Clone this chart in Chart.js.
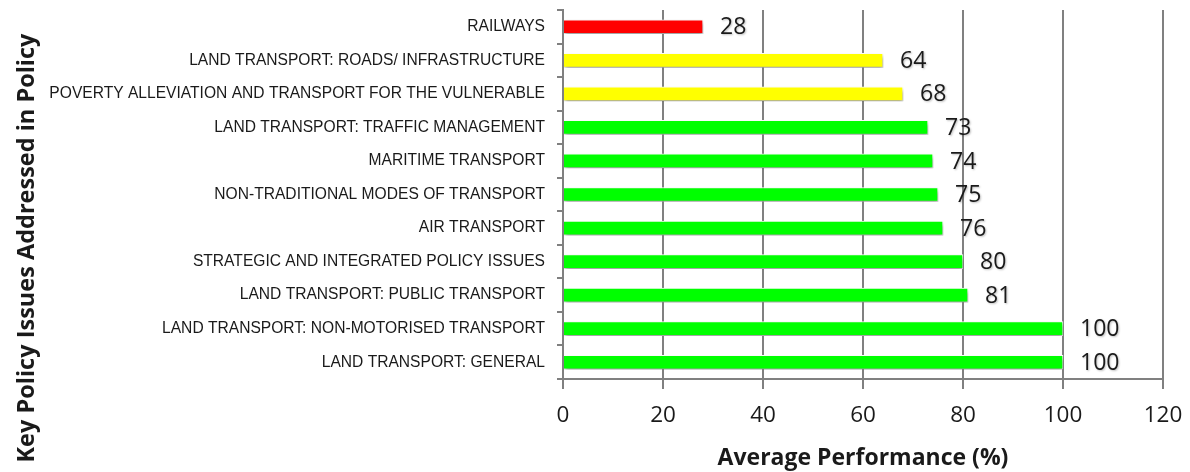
<!DOCTYPE html>
<html>
<head>
<meta charset="utf-8">
<script src="https://cdn.jsdelivr.net/npm/chart.js@4/dist/chart.umd.min.js"></script>
<style>
  html, body { margin: 0; padding: 0; background: #fff; }
  #wrap { width: 1190px; height: 472px; }
</style>
</head>
<body>
<div id="wrap"><canvas id="c" width="1190" height="472"></canvas></div>
<script>
const categories = [
  "RAILWAYS",
  "LAND TRANSPORT: ROADS/ INFRASTRUCTURE",
  "POVERTY ALLEVIATION AND TRANSPORT FOR THE VULNERABLE",
  "LAND TRANSPORT: TRAFFIC MANAGEMENT",
  "MARITIME TRANSPORT",
  "NON-TRADITIONAL MODES OF TRANSPORT",
  "AIR TRANSPORT",
  "STRATEGIC AND INTEGRATED POLICY ISSUES",
  "LAND TRANSPORT: PUBLIC TRANSPORT",
  "LAND TRANSPORT: NON-MOTORISED TRANSPORT",
  "LAND TRANSPORT: GENERAL"
];
const performance = [28, 64, 68, 73, 74, 75, 76, 80, 81, 100, 100];
const barColors = ["#ff0000", "#ffff00", "#ffff00", "#00ff00", "#00ff00", "#00ff00", "#00ff00", "#00ff00", "#00ff00", "#00ff00", "#00ff00"];
const xTicks = [0, 20, 40, 60, 80, 100, 120];
const xTitle = "Average Performance (%)";
const yTitle = "Key Policy Issues Addressed in Policy";

const TEXT = "#1a1a1a";
const GRID = "#808080";

const shadowPlugin = {
  id: "barShadow",
  beforeDatasetsDraw(chart) {
    const ctx = chart.ctx;
    ctx.save();
    ctx.shadowColor = "rgba(0,0,0,0.40)";
    ctx.shadowBlur = 4;
    ctx.shadowOffsetX = 1;
    ctx.shadowOffsetY = 3;
  },
  afterDatasetsDraw(chart) {
    const ctx = chart.ctx;
    ctx.restore();
    // value labels
    const meta = chart.getDatasetMeta(0);
    ctx.save();
    ctx.font = "23px 'Open Sans'";
    ctx.fillStyle = TEXT;
    ctx.textAlign = "left";
    ctx.textBaseline = "middle";
    ctx.shadowColor = "rgba(0,0,0,0.25)";
    ctx.shadowBlur = 2;
    ctx.shadowOffsetX = 1;
    ctx.shadowOffsetY = 1;
    meta.data.forEach((bar, i) => {
      ctx.fillText(String(performance[i]), bar.x + 17, bar.y + 1);
    });
    ctx.restore();
    // y axis title
    ctx.save();
    ctx.font = "bold 23.5px 'Open Sans'";
    ctx.fillStyle = TEXT;
    ctx.textAlign = "center";
    ctx.textBaseline = "middle";
    ctx.translate(27, 248);
    ctx.rotate(-Math.PI / 2);
    ctx.fillText(yTitle, 0, 0);
    ctx.restore();
  }
};

new Chart(document.getElementById("c"), {
  type: "bar",
  data: {
    labels: categories,
    datasets: [{
      data: performance,
      backgroundColor: barColors,
      borderColor: "#ffffff",
      borderWidth: 1,
      barThickness: 14
    }]
  },
  options: {
    indexAxis: "y",
    responsive: false,
    animation: false,
    devicePixelRatio: 1,
    layout: { padding: { top: 10, right: 27, left: 0, bottom: 0 } },
    plugins: { legend: { display: false }, tooltip: { enabled: false } },
    scales: {
      x: {
        min: 0,
        max: 120,
        afterBuildTicks(scale) { scale.ticks = xTicks.map(v => ({ value: v })); },
        afterFit(scale) { scale.height = 93; scale.paddingLeft = 0; scale.paddingRight = 0; },
        grid: { color: GRID, lineWidth: 2, tickLength: 10, drawTicks: true },
        border: { color: GRID, width: 2 },
        ticks: { color: TEXT, font: { family: "'Open Sans'", size: 22.5 }, padding: 13, maxRotation: 0 },
        title: { display: true, text: xTitle, color: TEXT, font: { family: "'Open Sans'", size: 23, weight: "bold" }, padding: { top: 0, bottom: 0 } }
      },
      y: {
        afterFit(scale) { scale.width = 563; scale.paddingTop = 0; scale.paddingBottom = 0; },
        grid: { drawOnChartArea: false, drawTicks: true, tickLength: 6, color: GRID, lineWidth: 2, offset: true },
        border: { color: GRID, width: 2 },
        ticks: { color: TEXT, font: { family: "'Liberation Sans'", size: 15.6 }, padding: 12, autoSkip: false }
      }
    }
  },
  plugins: [shadowPlugin]
});
</script>
</body>
</html>
